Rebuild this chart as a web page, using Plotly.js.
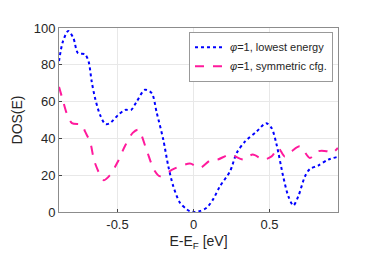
<!DOCTYPE html>
<html><head><meta charset="utf-8">
<script src="https://cdn.plot.ly/plotly-3.0.1.min.js"></script>
<style>html,body{margin:0;padding:0;background:#fff;}#chart{width:374px;height:260px;}</style>
</head><body><div id="chart"></div>
<script>
const energyLowest = [-0.885,-0.86,-0.824,-0.79,-0.76,-0.714,-0.69,-0.67,-0.648,-0.615,-0.58,-0.55,-0.495,-0.45,-0.41,-0.374,-0.32,-0.275,-0.242,-0.199,-0.166,-0.133,-0.089,-0.045,-0.023,0.01,0.045,0.087,0.13,0.174,0.24,0.284,0.34,0.416,0.477,0.514,0.547,0.59,0.624,0.657,0.69,0.734,0.766,0.82,0.887,0.95];
const dosLowest = [82,92.5,98.4,94.4,86.3,85.7,81.7,71,62,52.8,47.8,48.3,52.8,55.5,55.5,60,66.4,64.6,54,39.4,25,14,5,1.5,0.4,0,0.6,2.3,7,14,22,32,38.4,43.8,48.3,45.6,36.6,19.4,8.6,3.5,8.6,19.4,23.4,25.2,28.5,30];
const energySym = [-0.885,-0.857,-0.835,-0.80,-0.735,-0.714,-0.68,-0.65,-0.59,-0.55,-0.5,-0.45,-0.40,-0.363,-0.31,-0.26,-0.22,-0.13,-0.023,0.043,0.11,0.16,0.24,0.328,0.39,0.46,0.514,0.558,0.60,0.646,0.70,0.766,0.82,0.876,0.91,0.95];
const dosSym = [68,60,53.8,48.3,47.4,43.8,38,27,17.3,20,27,36,43,44.7,34,23,19.4,23.4,26.3,24,28,28.5,31.2,28.5,31.2,28.5,30.2,34.8,30.2,33,35.7,29.4,33,33,32,34.8];
const seriesNames = ['<i>φ</i>=1, lowest energy','<i>φ</i>=1, symmetric cfg.'];
const xTickVals = [-0.5,0,0.5];
const xTickText = ['-0.5','0','0.5'];
const yTickVals = [0,20,40,60,80,100];

const traces = [
  {x:energyLowest,y:dosLowest,name:seriesNames[0],mode:'lines',
   line:{color:'#0000ff',width:2,dash:'dot',shape:'spline',smoothing:0.8}},
  {x:energySym,y:dosSym,name:seriesNames[1],mode:'lines',
   line:{color:'#ff1a9c',width:2,dash:'dash',shape:'spline',smoothing:0.8}}
];
const axisCommon = {showline:true,mirror:true,linecolor:'#8c8c8c',linewidth:1,
  showgrid:true,gridcolor:'#e8e8e8',zeroline:false,ticks:'inside',ticklen:3,
  tickcolor:'#444',tickfont:{family:'Liberation Sans, Arial, sans-serif',size:13,color:'#262626'}};
const layout = {
  width:374,height:260,margin:{l:59,r:36,t:28,b:47.5},
  paper_bgcolor:'#fff',plot_bgcolor:'#fff',
  font:{family:'Liberation Sans, Arial, sans-serif',color:'#262626'},
  xaxis:Object.assign({},axisCommon,{range:[-0.885,0.951],tickvals:xTickVals,ticktext:xTickText,
    title:{text:'E-E<sub>F</sub> [eV]',font:{size:14,color:'#262626'},standoff:5}}),
  yaxis:Object.assign({},axisCommon,{range:[0,100],tickvals:yTickVals,
    title:{text:'DOS(E)',font:{size:14,color:'#262626'},standoff:7}}),
  showlegend:true,
  legend:{x:0.982,y:0.98,xanchor:'right',yanchor:'top',bgcolor:'#fff',bordercolor:'#999',borderwidth:1,
    font:{size:11,color:'#262626'},tracegroupgap:0,itemwidth:30}
};
Plotly.newPlot('chart',traces,layout,{displayModeBar:false,staticPlot:true});
</script></body></html>
